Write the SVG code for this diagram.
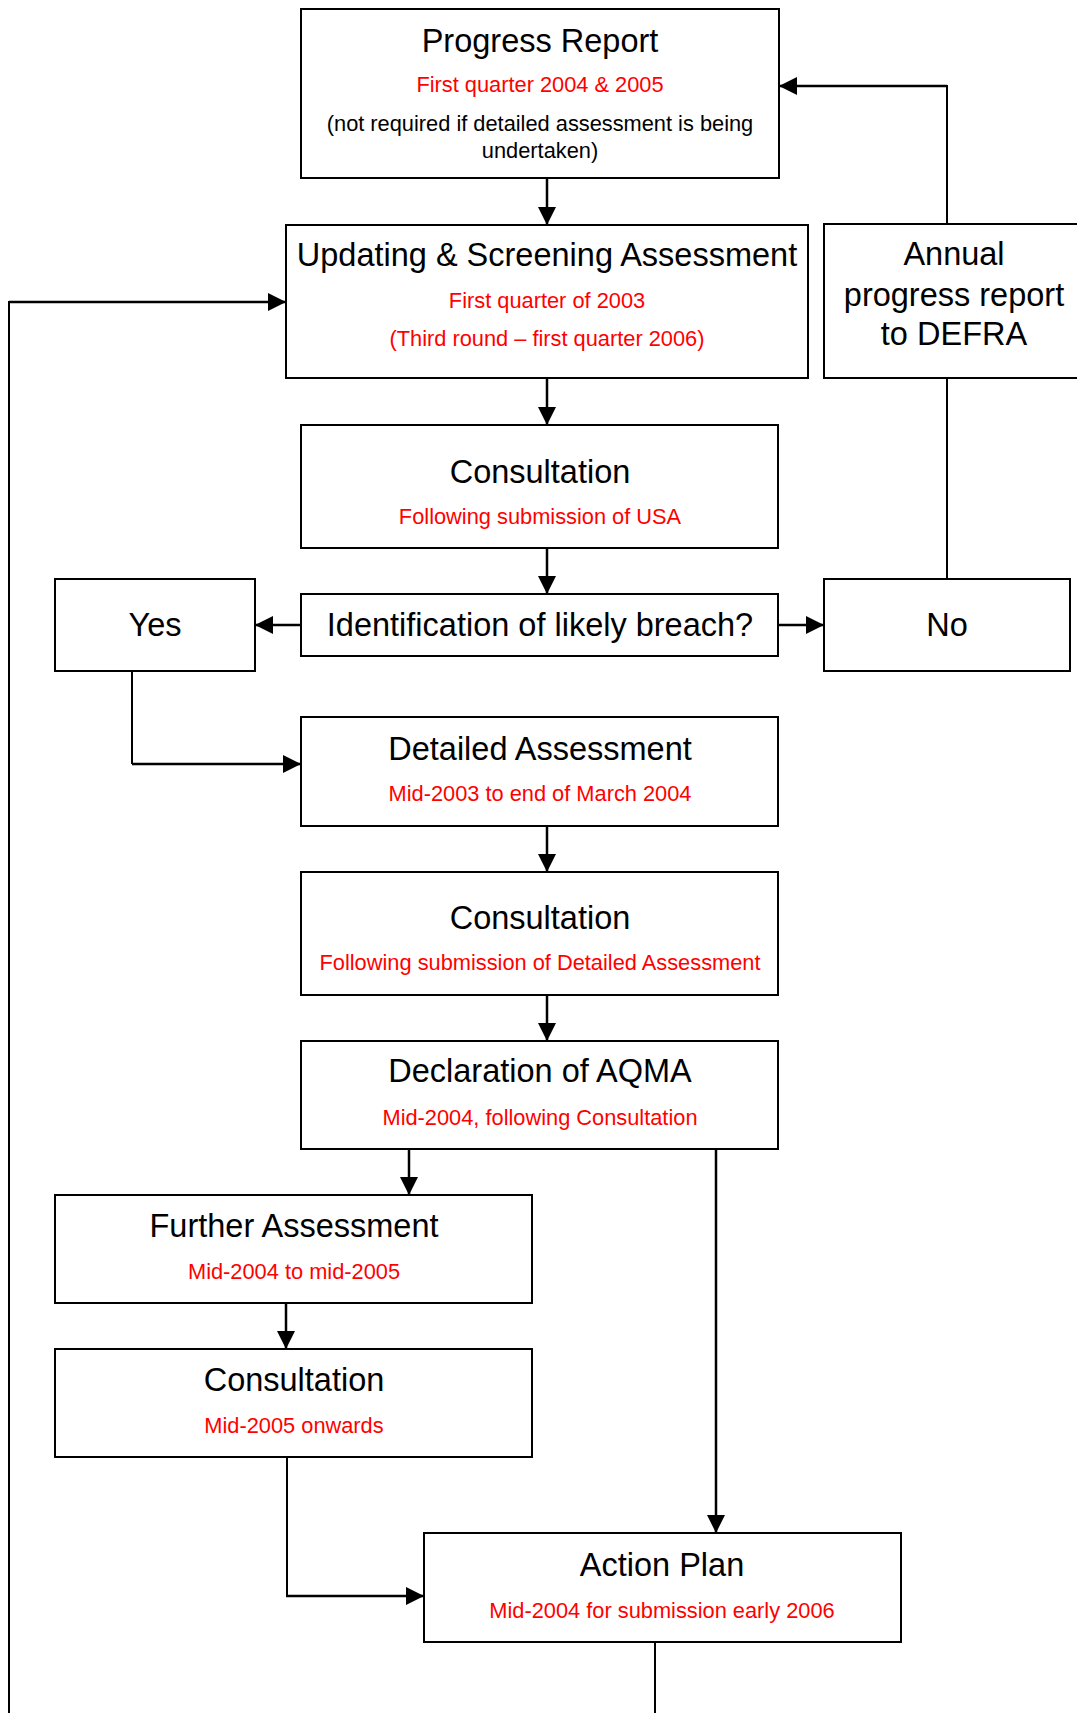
<svg xmlns="http://www.w3.org/2000/svg" width="1077" height="1713" viewBox="0 0 1077 1713">
<style>
.box{fill:#fff;stroke:#000;stroke-width:2}
text{font-family:"Liberation Sans",Arial,sans-serif;text-anchor:middle}
.t{font-size:32.5px;fill:#000}
.r{font-size:21.8px;fill:#ff0000}
.b{font-size:21.8px;fill:#000}
.c{fill:none;stroke:#000;stroke-width:2.5}
.c2{fill:none;stroke:#000;stroke-width:2}
</style>
<defs>
<marker id="ah" markerUnits="userSpaceOnUse" markerWidth="18" markerHeight="18" viewBox="0 0 18 18" refX="18" refY="9" orient="auto">
<path d="M0,0 L18,9 L0,18 z" fill="#000"/>
</marker>
</defs>
<rect width="1077" height="1713" fill="#fff"/>
<g id="connectors">
<path class="c2" d="M947,224 V86 H795"/>
<path class="c" d="M947,86 H779" marker-end="url(#ah)"/>
<path class="c" d="M547,178 V225" marker-end="url(#ah)"/>
<path class="c2" d="M9,1713 V302 H270"/>
<path class="c" d="M9,302 H286" marker-end="url(#ah)"/>
<path class="c" d="M547,378 V425" marker-end="url(#ah)"/>
<path class="c" d="M547,548 V594" marker-end="url(#ah)"/>
<path class="c" d="M301,625 H255" marker-end="url(#ah)"/>
<path class="c" d="M778,625 H824" marker-end="url(#ah)"/>
<path class="c2" d="M947,378 V579"/>
<path class="c2" d="M132,671 V764"/>
<path class="c" d="M132,764 H301" marker-end="url(#ah)"/>
<path class="c" d="M547,826 V872" marker-end="url(#ah)"/>
<path class="c" d="M547,995 V1041" marker-end="url(#ah)"/>
<path class="c" d="M409,1149 V1195" marker-end="url(#ah)"/>
<path class="c" d="M716,1149 V1533" marker-end="url(#ah)"/>
<path class="c" d="M286,1303 V1349" marker-end="url(#ah)"/>
<path class="c2" d="M287,1457 V1596"/>
<path class="c" d="M286,1596 H424" marker-end="url(#ah)"/>
<path class="c2" d="M655,1642 V1713"/>
</g>
<g id="progress-report">
<rect class="box" x="301" y="9" width="478" height="169"/>
<text class="t" x="540" y="52">Progress Report</text>
<text class="r" x="540" y="92">First quarter 2004 &amp; 2005</text>
<text class="b" x="540" y="131">(not required if detailed assessment is being</text>
<text class="b" x="540" y="158">undertaken)</text>
</g>
<g id="updating-screening">
<rect class="box" x="286" y="225" width="522" height="153"/>
<text class="t" x="547" y="266">Updating &amp; Screening Assessment</text>
<text class="r" x="547" y="308">First quarter of 2003</text>
<text class="r" x="547" y="346">(Third round – first quarter 2006)</text>
</g>
<g id="annual-report">
<rect class="box" x="824" y="224" width="262" height="154"/>
<text class="t" x="954" y="265">Annual</text>
<text class="t" x="954" y="306">progress report</text>
<text class="t" x="954" y="345">to DEFRA</text>
</g>
<g id="consultation-usa">
<rect class="box" x="301" y="425" width="477" height="123"/>
<text class="t" x="540" y="483">Consultation</text>
<text class="r" x="540" y="524">Following submission of USA</text>
</g>
<g id="identification">
<rect class="box" x="301" y="594" width="477" height="62"/>
<text class="t" x="540" y="636">Identification of likely breach?</text>
</g>
<g id="yes">
<rect class="box" x="55" y="579" width="200" height="92"/>
<text class="t" x="155" y="636">Yes</text>
</g>
<g id="no">
<rect class="box" x="824" y="579" width="246" height="92"/>
<text class="t" x="947" y="636">No</text>
</g>
<g id="detailed-assessment">
<rect class="box" x="301" y="717" width="477" height="109"/>
<text class="t" x="540" y="760">Detailed Assessment</text>
<text class="r" x="540" y="801">Mid-2003 to end of March 2004</text>
</g>
<g id="consultation-da">
<rect class="box" x="301" y="872" width="477" height="123"/>
<text class="t" x="540" y="929">Consultation</text>
<text class="r" x="540" y="970">Following submission of Detailed Assessment</text>
</g>
<g id="declaration-aqma">
<rect class="box" x="301" y="1041" width="477" height="108"/>
<text class="t" x="540" y="1082">Declaration of AQMA</text>
<text class="r" x="540" y="1125">Mid-2004, following Consultation</text>
</g>
<g id="further-assessment">
<rect class="box" x="55" y="1195" width="477" height="108"/>
<text class="t" x="294" y="1237">Further Assessment</text>
<text class="r" x="294" y="1279">Mid-2004 to mid-2005</text>
</g>
<g id="consultation-fa">
<rect class="box" x="55" y="1349" width="477" height="108"/>
<text class="t" x="294" y="1391">Consultation</text>
<text class="r" x="294" y="1433">Mid-2005 onwards</text>
</g>
<g id="action-plan">
<rect class="box" x="424" y="1533" width="477" height="109"/>
<text class="t" x="662" y="1576">Action Plan</text>
<text class="r" x="662" y="1618">Mid-2004 for submission early 2006</text>
</g>
</svg>
